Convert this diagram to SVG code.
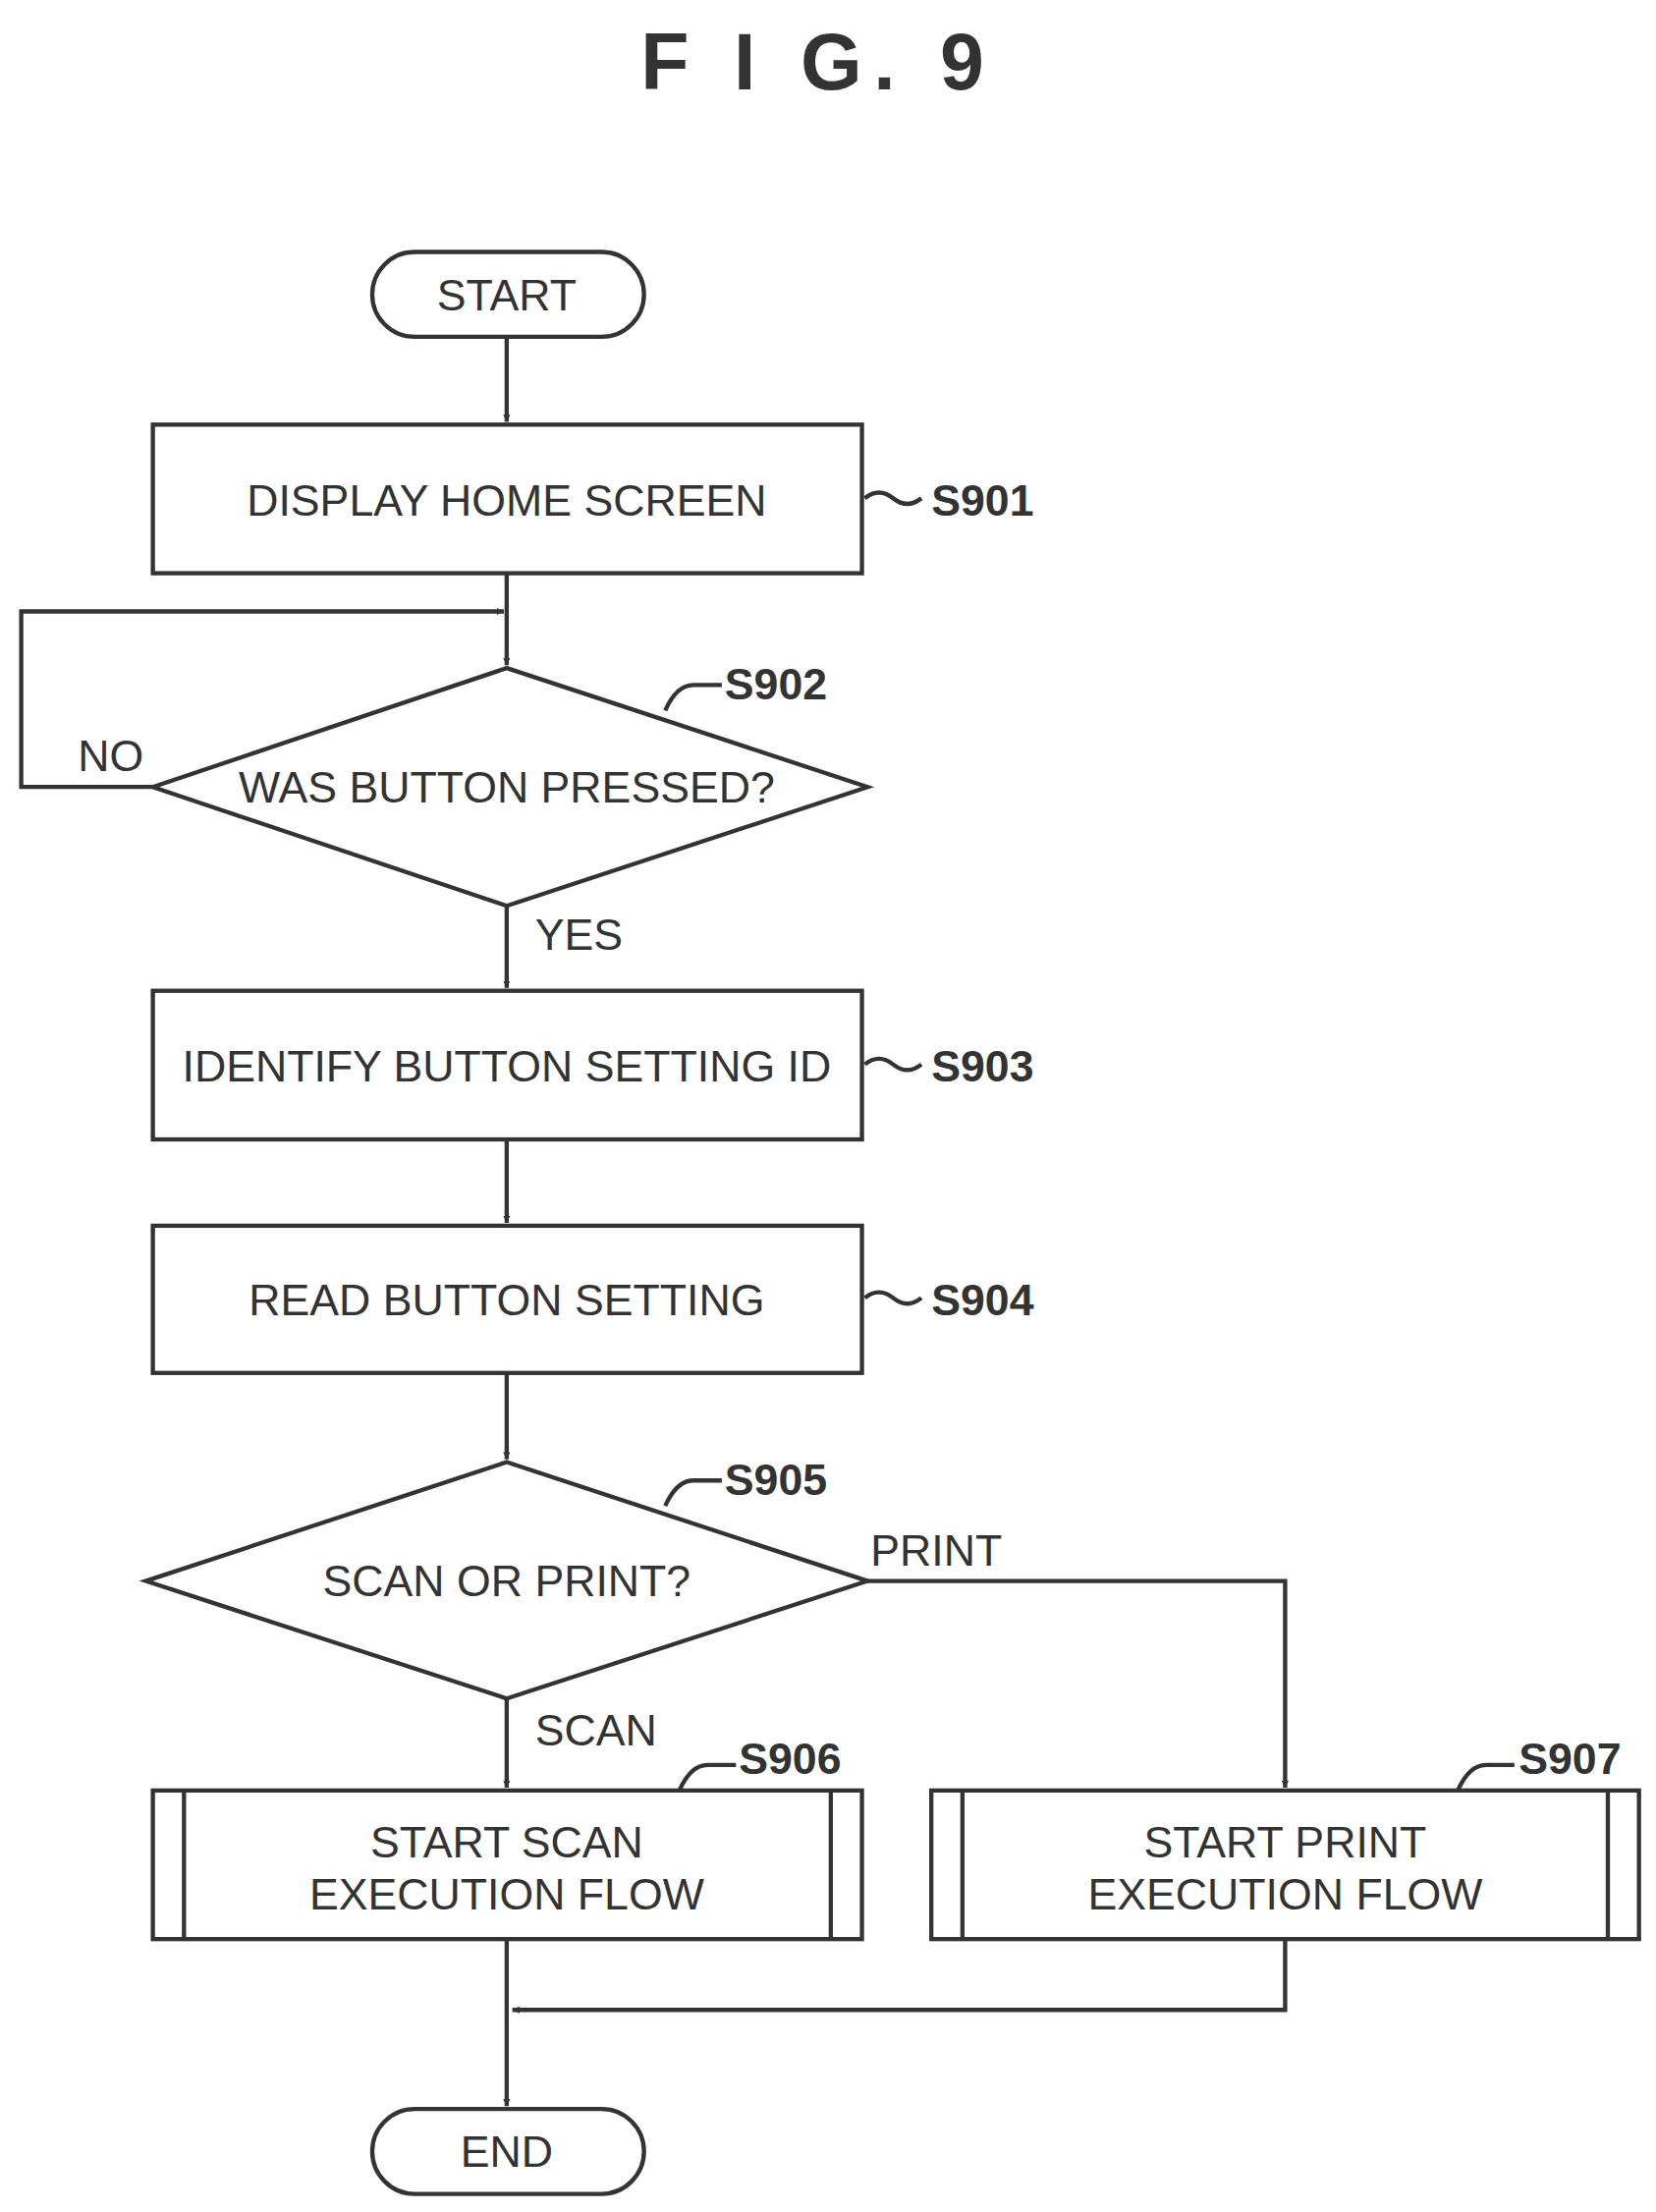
<svg xmlns="http://www.w3.org/2000/svg" width="1686" height="2252" viewBox="0 0 1686 2252">
<defs>
<marker id="ah" viewBox="0 0 10 10" refX="10" refY="5" markerWidth="5" markerHeight="5" orient="auto" markerUnits="userSpaceOnUse"><path d="M0,0 L10,5 L0,10 z" fill="#333"/></marker>
<style>
.s{fill:#fff;stroke:#333;stroke-width:3}
.c{fill:none;stroke:#333;stroke-width:3}
.t{font-family:"Liberation Sans",Arial,sans-serif;font-size:31px;fill:#333;text-anchor:middle}
.l{font-family:"Liberation Sans",Arial,sans-serif;font-size:31px;fill:#333}
.b{font-family:"Liberation Sans",Arial,sans-serif;font-size:31px;font-weight:bold;fill:#333}
</style>
</defs>
<rect width="1686" height="2252" fill="#fff"/>
<g transform="scale(1.441)">
<text x="578" y="63" class="b" style="font-size:56px;text-anchor:middle;letter-spacing:8px">F I G. 9</text>
<g id="connectors">
<line class="c" x1="358" y1="238" x2="358" y2="298" marker-end="url(#ah)"/>
<line class="c" x1="358" y1="405" x2="358" y2="470" marker-end="url(#ah)"/>
<polyline class="c" points="108,556 15,556 15,432 356,432" marker-end="url(#ah)"/>
<line class="c" x1="358" y1="640" x2="358" y2="698" marker-end="url(#ah)"/>
<line class="c" x1="358" y1="805" x2="358" y2="864" marker-end="url(#ah)"/>
<line class="c" x1="358" y1="970" x2="358" y2="1031" marker-end="url(#ah)"/>
<polyline class="c" points="613,1117 908,1117 908,1263" marker-end="url(#ah)"/>
<line class="c" x1="358" y1="1200" x2="358" y2="1263" marker-end="url(#ah)"/>
<line class="c" x1="358" y1="1370" x2="358" y2="1488" marker-end="url(#ah)"/>
<polyline class="c" points="908,1370 908,1420 362,1420" marker-end="url(#ah)"/>
<text x="55" y="545" class="l">NO</text>
<text x="378" y="671" class="l">YES</text>
<text x="615" y="1106" class="l">PRINT</text>
<text x="378" y="1233" class="l">SCAN</text>
</g>
<g id="start"><rect class="s" x="263" y="178" width="192" height="60" rx="30"/><text x="358" y="219" class="t">START</text></g>
<g id="s901"><rect class="s" x="108" y="300" width="501" height="105"/><text x="358" y="364" class="t">DISPLAY HOME SCREEN</text><path class="c" d="M611,352 q10,-8 20,0 t20,0"/><text x="658" y="364" class="b">S901</text></g>
<g id="s902"><polygon class="s" points="358,472 613,556 358,640 108,556"/><text x="358" y="567" class="t">WAS BUTTON PRESSED?</text><path class="c" d="M470,502 q8,-18 20,-18 t20,0"/><text x="512" y="494" class="b">S902</text></g>
<g id="s903"><rect class="s" x="108" y="700" width="501" height="105"/><text x="358" y="764" class="t">IDENTIFY BUTTON SETTING ID</text><path class="c" d="M611,752 q10,-8 20,0 t20,0"/><text x="658" y="764" class="b">S903</text></g>
<g id="s904"><rect class="s" x="108" y="866" width="501" height="104"/><text x="358" y="929" class="t">READ BUTTON SETTING</text><path class="c" d="M611,917 q10,-8 20,0 t20,0"/><text x="658" y="929" class="b">S904</text></g>
<g id="s905"><polygon class="s" points="358,1033 613,1117 358,1200 103,1117"/><text x="358" y="1128" class="t">SCAN OR PRINT?</text><path class="c" d="M470,1064 q8,-18 20,-18 t20,0"/><text x="512" y="1056" class="b">S905</text></g>
<g id="s906"><rect class="s" x="108" y="1265" width="501" height="105"/><line class="c" x1="130" y1="1265" x2="130" y2="1370"/><line class="c" x1="587" y1="1265" x2="587" y2="1370"/><text x="358" y="1312" class="t">START SCAN</text><text x="358" y="1349" class="t">EXECUTION FLOW</text><path class="c" d="M480,1265 q8,-18 20,-18 t20,0"/><text x="522" y="1253" class="b">S906</text></g>
<g id="s907"><rect class="s" x="658" y="1265" width="500" height="105"/><line class="c" x1="680" y1="1265" x2="680" y2="1370"/><line class="c" x1="1136" y1="1265" x2="1136" y2="1370"/><text x="908" y="1312" class="t">START PRINT</text><text x="908" y="1349" class="t">EXECUTION FLOW</text><path class="c" d="M1030,1265 q8,-18 20,-18 t20,0"/><text x="1073" y="1253" class="b">S907</text></g>
<g id="end"><rect class="s" x="263" y="1490" width="192" height="60" rx="30"/><text x="358" y="1531" class="t">END</text></g>
</g>
</svg>
